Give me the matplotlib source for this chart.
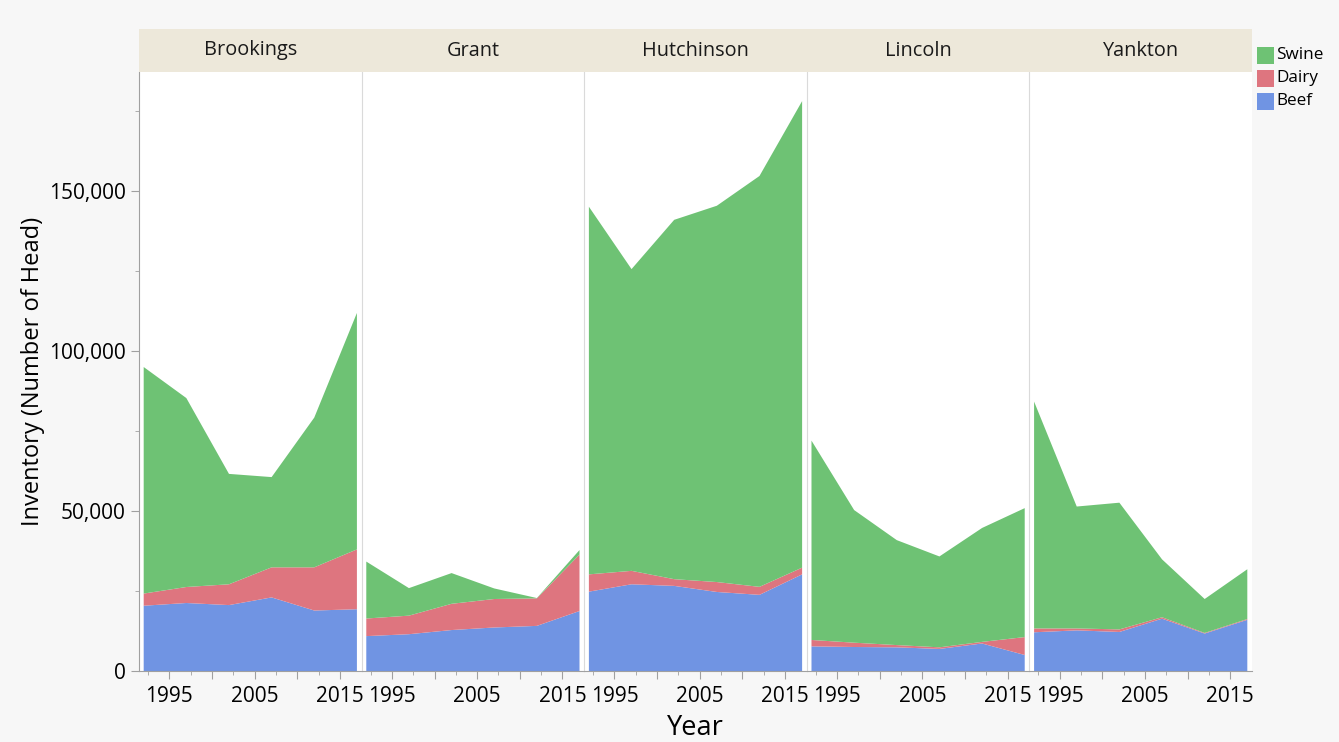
import matplotlib
matplotlib.use("Agg")
import matplotlib.pyplot as plt
from matplotlib.patches import Rectangle
from matplotlib.ticker import FuncFormatter, MultipleLocator, FixedLocator

plt.rcParams['font.family'] = ['Open Sans', 'DejaVu Sans']

years = [1992, 1997, 2002, 2007, 2012, 2017]
counties = ["Brookings", "Grant", "Hutchinson", "Lincoln", "Yankton"]

beef = {
    "Brookings":  [20400, 21250, 20600, 23000, 18900, 19300],
    "Grant":      [10900, 11500, 12800, 13600, 14100, 18750],
    "Hutchinson": [24800, 27100, 26600, 24700, 23800, 30200],
    "Lincoln":    [7700, 7500, 7400, 6900, 8600, 5000],
    "Yankton":    [12100, 12700, 12200, 16350, 11700, 16000],
}
dairy = {
    "Brookings":  [3800, 5000, 6500, 9400, 13500, 18700],
    "Grant":      [5500, 5800, 8200, 8900, 8600, 17650],
    "Hutchinson": [5400, 4200, 2100, 3100, 2500, 2100],
    "Lincoln":    [2000, 1350, 700, 500, 500, 5600],
    "Yankton":    [1200, 600, 800, 450, 200, 250],
}
swine = {
    "Brookings":  [70800, 59050, 34500, 28200, 46800, 73900],
    "Grant":      [17800, 8600, 9600, 3300, 100, 1400],
    "Hutchinson": [114900, 94300, 112300, 117600, 128400, 145800],
    "Lincoln":    [62300, 41450, 32800, 28400, 35600, 40300],
    "Yankton":    [70900, 38100, 39600, 18100, 10600, 15550],
}

series_names = ["Beef", "Dairy", "Swine"]
colors = {"Beef": "#7094E3", "Dairy": "#DE757F", "Swine": "#6EC274"}

W, H = 1339, 742
fig = plt.figure(figsize=(W / 100, H / 100), dpi=100)
fig.patch.set_facecolor("#F7F7F7")

left_px, right_px = 139, 1252
top_px, bottom_px = 72, 671
strip_top = 29
n = len(counties)
pw = (right_px - left_px) / n

grid_col = "#A0A0A0"
for i, c in enumerate(counties):
    x0 = left_px + i * pw
    ax = fig.add_axes([x0 / W, 1 - bottom_px / H, pw / W, (bottom_px - top_px) / H])
    ax.set_facecolor("white")
    ax.stackplot(years, beef[c], dairy[c], swine[c],
                 colors=[colors[s] for s in series_names], linewidth=0)
    ax.set_xlim(1991.45, 2017.55)
    ax.set_ylim(0, 187200)
    ax.xaxis.set_major_locator(FixedLocator([1995, 2000, 2005, 2010, 2015]))
    ax.xaxis.set_minor_locator(FixedLocator([1992.5, 1997.5, 2002.5, 2007.5, 2012.5]))
    ax.xaxis.set_major_formatter(FuncFormatter(lambda v, p: f"{int(v)}" if int(v) in (1995, 2005, 2015) else ""))
    ax.tick_params(axis='x', which='major', length=6, color=grid_col, labelsize=15, pad=5)
    ax.tick_params(axis='x', which='minor', length=3, color=grid_col)
    for s in ["top", "right"]:
        ax.spines[s].set_visible(False)
    ax.spines["bottom"].set_color(grid_col)
    if i == 0:
        ax.spines["left"].set_color(grid_col)
        ax.yaxis.set_major_locator(MultipleLocator(50000))
        ax.yaxis.set_minor_locator(MultipleLocator(25000))
        ax.yaxis.set_major_formatter(FuncFormatter(lambda v, p: f"{int(v):,}"))
        ax.tick_params(axis='y', which='major', length=6, color=grid_col, labelsize=15)
        ax.tick_params(axis='y', which='minor', length=3, color=grid_col)
        ax.set_ylabel("Inventory (Number of Head)", fontsize=17, labelpad=3)
    else:
        ax.spines["left"].set_color("#DADADA")
        ax.tick_params(axis='y', which='both', left=False, labelleft=False)
    # strip
    fig.patches.append(Rectangle((x0 / W, 1 - top_px / H), pw / W, (top_px - strip_top) / H,
                                 transform=fig.transFigure, facecolor="#EDE8DA",
                                 edgecolor="none", zorder=0))
    fig.text((x0 + pw / 2) / W, 1 - (top_px + strip_top) / 2 / H, c,
             ha="center", va="center", fontsize=14.3, color="#1A1A1A")

fig.text(695 / W, 1 - 728 / H, "Year", ha="center", va="center", fontsize=19.5)

# legend
leg_names = ["Swine", "Dairy", "Beef"]
for k, s in enumerate(leg_names):
    yc = 55 + k * 23
    fig.patches.append(Rectangle((1257 / W, 1 - (yc + 9) / H), 17 / W, 17 / H,
                                 transform=fig.transFigure, facecolor=colors[s],
                                 edgecolor="none"))
    fig.text(1276 / W, 1 - yc / H, s, ha="left", va="center", fontsize=12.3)

fig.savefig("out.png", dpi=100, facecolor=fig.get_facecolor())
